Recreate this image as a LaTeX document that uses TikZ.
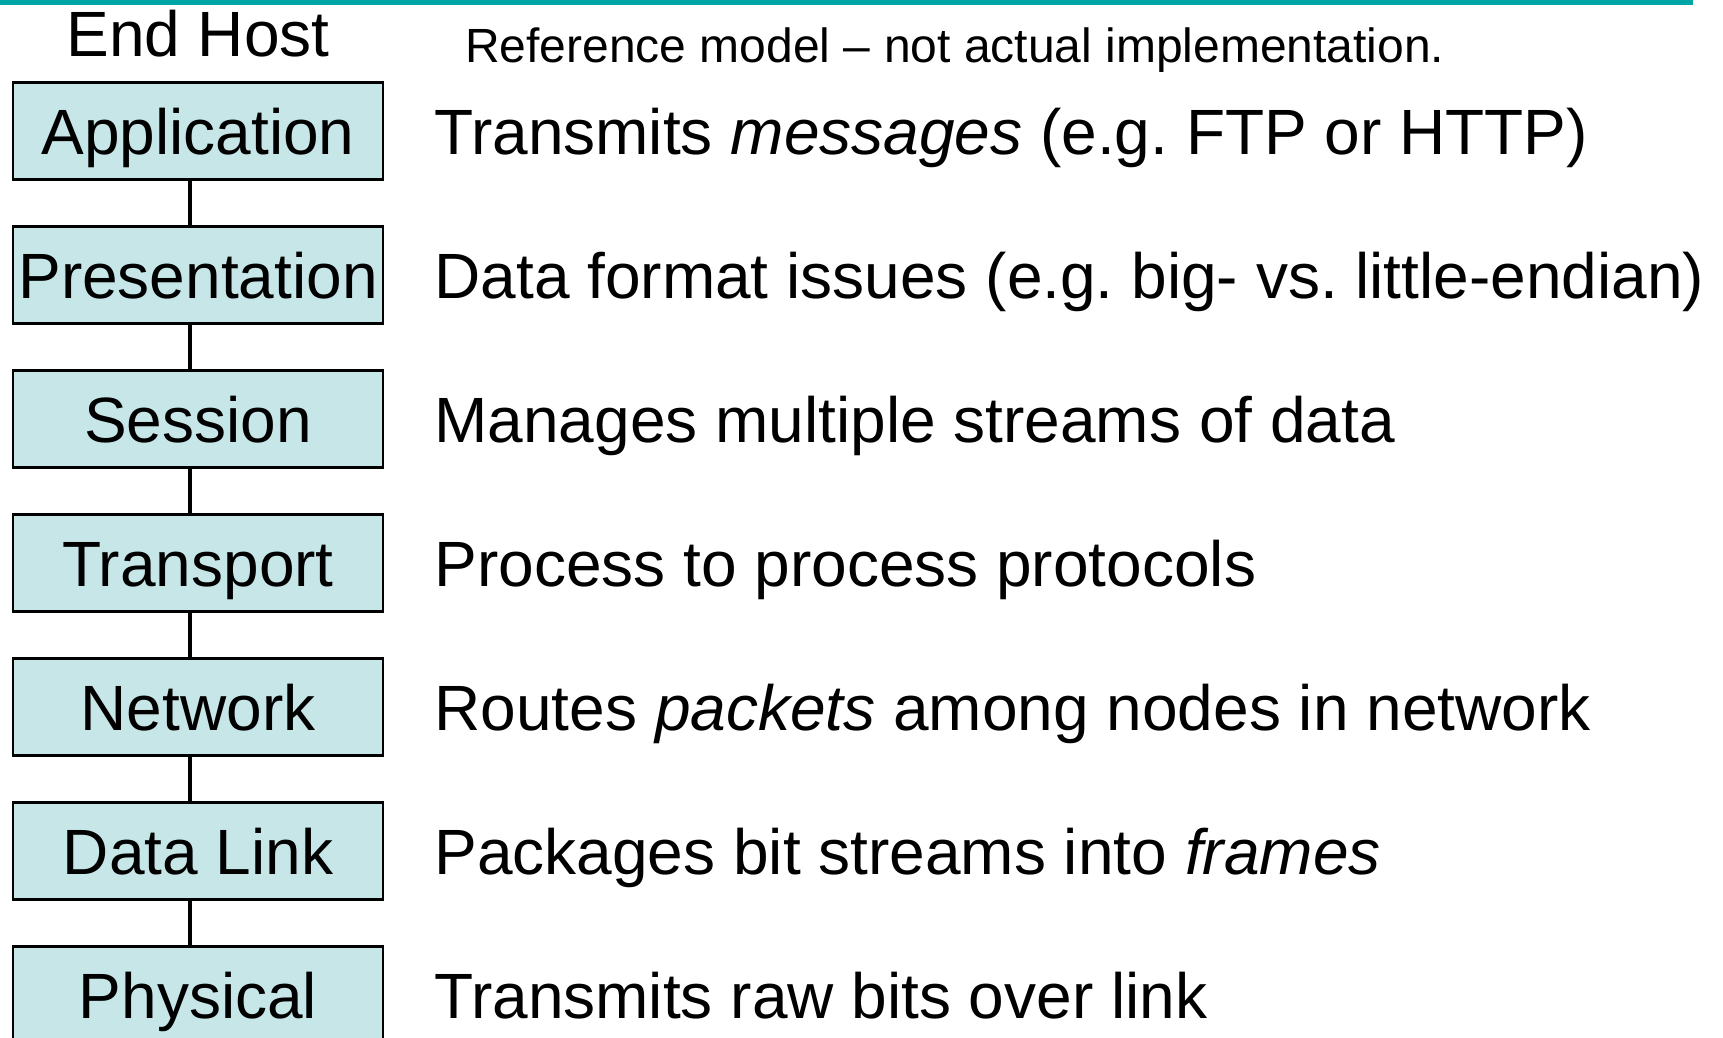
\documentclass[tikz,border=0pt]{standalone}
\usepackage{fontspec}
\setmainfont{Liberation Sans}
\usetikzlibrary{positioning}
\definecolor{layerfill}{RGB}{198,230,232}
\definecolor{topbar}{RGB}{0,166,166}
\frenchspacing
\begin{document}
\begin{tikzpicture}[x=1pt, y=-1pt, font=\fontsize{64}{76}\selectfont,
  layer/.style={draw, line width=2.5pt, fill=layerfill, minimum width=370pt, minimum height=97pt, inner sep=0pt, text height=46pt, text depth=0pt},
  desc/.style={inner sep=0pt, text height=46pt, text depth=0pt}]
  \useasboundingbox (0,0) rectangle (1723,1037);
  \fill[topbar] (0,0) rectangle (1693,4.5);
  \foreach \t/\d [count=\i] in {Application/Transmits \textit{messages} (e.g. FTP or HTTP),
      Presentation/Data format issues (e.g. big- vs. little-endian),
      Session/Manages multiple streams of data,
      Transport/Process to process protocols,
      Network/Routes \textit{packets} among nodes in network,
      Data Link/Packages bit streams into \textit{frames},
      Physical/Transmits raw bits over link}{
    \node[layer] (L_\i) at (198,{131+144*(\i-1)}) {\t};
    \node[desc, right=50pt of L_\i] (D_\i) {\d};
  }
  \foreach \i [evaluate=\i as \j using int(\i+1)] in {1,...,6}
    \draw[line width=4pt] ([xshift=-8pt]L_\i.south) -- ([xshift=-8pt]L_\j.north);
  \node[desc, above=25pt of L_1] (host) {End Host};
  \node[anchor=base west, inner sep=0pt, font=\fontsize{48}{57}\selectfont] (note) at (465,62) {Reference model \textendash{} not actual implementation.};
\end{tikzpicture}
\end{document}
